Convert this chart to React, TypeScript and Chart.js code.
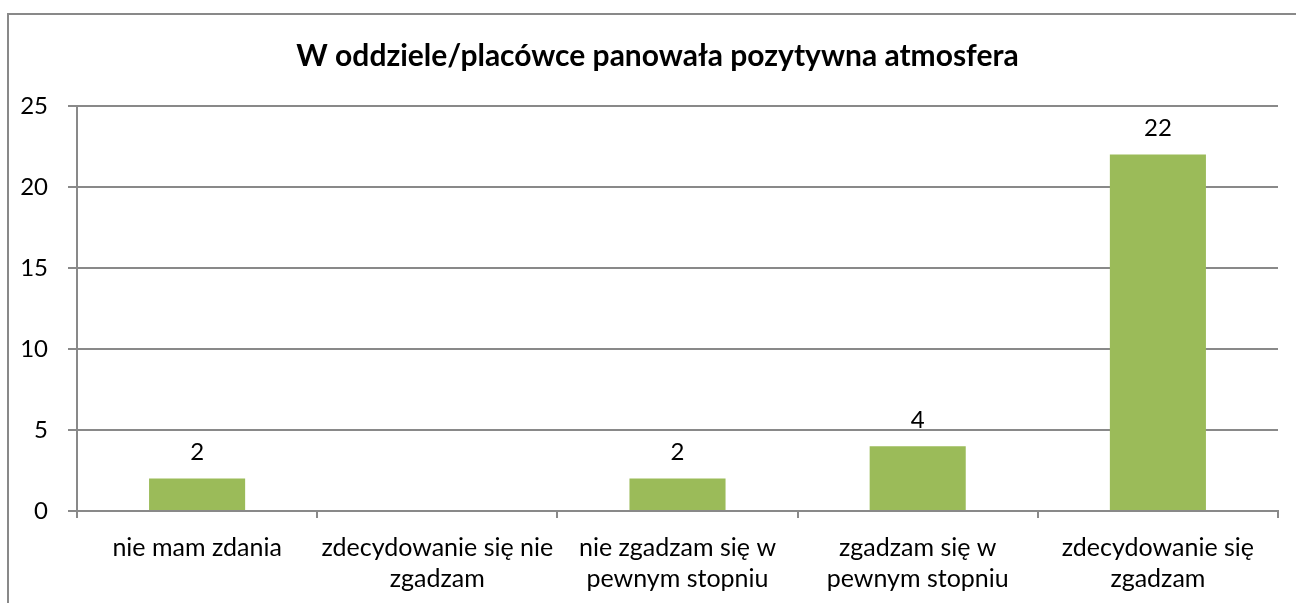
import React, { useEffect, useRef } from "react";
import { Chart, registerables } from "chart.js";

Chart.register(...registerables);

const title = "W oddziele/placówce panowała pozytywna atmosfera";
const categories: string[][] = [
  ["nie mam zdania"],
  ["zdecydowanie się nie", "zgadzam"],
  ["nie zgadzam się w", "pewnym stopniu"],
  ["zgadzam się w", "pewnym stopniu"],
  ["zdecydowanie się", "zgadzam"],
];
const values: number[] = [2, 0, 2, 4, 22];
const yTicks: number[] = [0, 5, 10, 15, 20, 25];

const FONT = "Lato, 'Open Sans', sans-serif";
const GRID = "#898989";

const valueLabels = {
  id: "valueLabels",
  afterDatasetsDraw(chart: any) {
    const ctx = chart.ctx;
    const meta = chart.getDatasetMeta(0);
    ctx.save();
    ctx.font = `24px ${FONT}`;
    ctx.fillStyle = "#000";
    ctx.textAlign = "center";
    ctx.textBaseline = "middle";
    meta.data.forEach((bar: any, i: number) => {
      const v = values[i];
      if (!v) return;
      ctx.fillText(String(v), bar.x, bar.y - 26);
    });
    ctx.restore();
  },
};

const titleDraw = {
  id: "titleDraw",
  afterDraw(chart: any) {
    const ctx = chart.ctx;
    ctx.save();
    ctx.font = `bold 30px ${FONT}`;
    ctx.fillStyle = "#000";
    ctx.textAlign = "center";
    ctx.textBaseline = "middle";
    ctx.fillText(title, chart.width / 2 + 5, 41);
    ctx.restore();
  },
};

export default function App() {
  const ref = useRef<HTMLCanvasElement | null>(null);
  useEffect(() => {
    if (!ref.current) return;
    const chart = new Chart(ref.current, {
      type: "bar",
      data: {
        labels: categories,
        datasets: [
          {
            data: values,
            backgroundColor: "#9BBB59",
            barPercentage: 0.4,
            categoryPercentage: 1,
          },
        ],
      },
      options: {
        animation: false,
        responsive: false,
        maintainAspectRatio: false,
        layout: { padding: { left: 0, right: 18, top: 0, bottom: 0 } },
        plugins: {
          legend: { display: false },
          tooltip: { enabled: false },
          title: {
            display: true,
            text: title,
            color: "rgba(0,0,0,0)",
            font: { family: FONT, size: 30, weight: "bold", lineHeight: 1.2 },
            padding: { top: 23, bottom: 32 },
          },
        },
        scales: {
          x: {
            grid: {
              offset: true,
              drawOnChartArea: false,
              drawTicks: true,
              tickLength: 7,
              color: GRID,
              lineWidth: 2,
            },
            border: { color: GRID, width: 2 },
            ticks: {
              color: "#000",
              font: { family: FONT, size: 25, lineHeight: 1.24 },
              padding: 14,
              maxRotation: 0,
              autoSkip: false,
            },
            afterFit(scale: any) {
              scale.height = 92;
            },
          },
          y: {
            min: 0,
            max: 25,
            afterBuildTicks(scale: any) {
              scale.ticks = yTicks.map((v) => ({ value: v }));
            },
            grid: {
              color: GRID,
              lineWidth: 2,
              drawTicks: true,
              tickLength: 9,
            },
            border: { color: GRID, width: 2 },
            ticks: {
              color: "#000",
              font: { family: FONT, size: 24 },
              padding: 20,
            },
            afterFit(scale: any) {
              scale.width = 68;
            },
          },
        },
      },
      plugins: [valueLabels, titleDraw],
    });
    return () => chart.destroy();
  }, []);

  return (
    <div
      style={{
        position: "absolute",
        left: 7,
        top: 13,
        width: 1289,
        height: 590,
        borderLeft: "2px solid #898989",
        borderTop: "2px solid #898989",
        boxSizing: "border-box",
        background: "#fff",
      }}
    >
      <canvas ref={ref} width={1287} height={588} style={{ display: "block" }} />
    </div>
  );
}
